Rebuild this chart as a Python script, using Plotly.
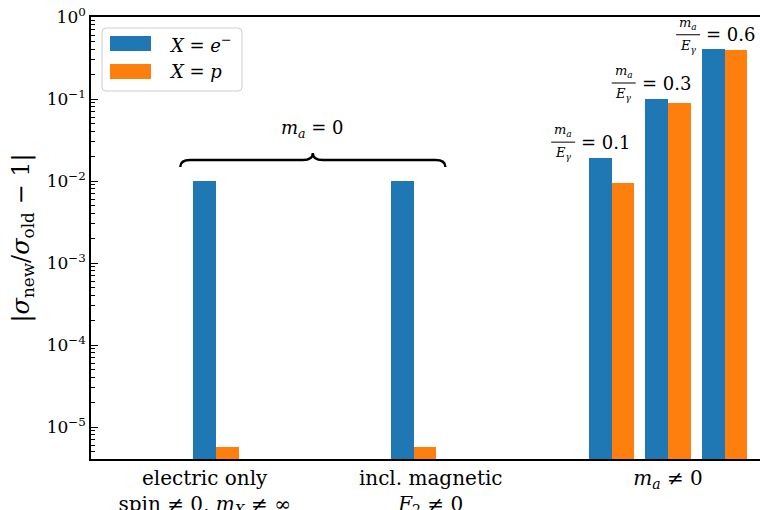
import numpy as np
import plotly.graph_objects as go

# ---------------- data ----------------
groups = ["electric only", "incl. magnetic", "ma/Eg=0.1", "ma/Eg=0.3", "ma/Eg=0.6"]
electron = [1.0e-2, 1.0e-2, 1.9e-2, 1.0e-1, 4.1e-1]
proton = [5.7e-6, 5.7e-6, 9.5e-3, 8.9e-2, 4.0e-1]
ratio_labels = ["0.1", "0.3", "0.6"]
tick_labels = [
    "electric only<br>spin ≠ 0, <i>m</i><sub><i>X</i></sub> ≠ ∞",
    "incl. magnetic<br><i>F</i><sub>2</sub> ≠ 0",
    "<i>m</i><sub><i>a</i></sub> ≠ 0",
]
ytick_vals = [1e-5, 1e-4, 1e-3, 1e-2, 1e-1, 1.0]
ytick_text = ["10<sup>−5</sup>", "10<sup>−4</sup>", "10<sup>−3</sup>",
              "10<sup>−2</sup>", "10<sup>−1</sup>", "10<sup>0</sup>"]

# ---------------- layout / style ----------------
pair_centers = [0.0, 0.875, 1.75, 2.0, 2.25]
bar_w = 0.1
tick_pos = [-0.05, 0.95, 2.0]
XMIN, XMAX = -0.553, 2.407
YMIN, YMAX = -5.39, 0.0
BLUE, ORANGE = "#1f77b4", "#ff7f0e"
FONT = "DejaVu Serif"
W, H = 760, 510
ML, MR, MT, MB = 91, 0, 17, 51
PW, PH = W - ML - MR, H - MT - MB


def ypaper(v):
    return (np.log10(v) - YMIN) / (YMAX - YMIN)


def pxp(px):
    return (px - ML) / PW


def pyp(py):
    return (H - MB - py) / PH


fig = go.Figure()
fig.add_trace(go.Bar(x=[c - bar_w / 2 for c in pair_centers], y=electron, width=bar_w,
                     marker=dict(color=BLUE, line=dict(width=0)), name="X = e-", showlegend=False))
fig.add_trace(go.Bar(x=[c + bar_w / 2 for c in pair_centers], y=proton, width=bar_w,
                     marker=dict(color=ORANGE, line=dict(width=0)), name="X = p", showlegend=False))

shapes = []
annotations = []

# ---- brace over m_a = 0 groups ----
L = pair_centers[0] - bar_w - 0.058
R = pair_centers[1] + bar_w + 0.04
M = (L + R) / 2
r = 0.044
y_tip, y_line, y_peak = pyp(167), pyp(160), pyp(153)
path = (f"M {L},{y_tip} Q {L},{y_line} {L + r},{y_line} L {M - r},{y_line} "
        f"Q {M},{y_line} {M},{y_peak} Q {M},{y_line} {M + r},{y_line} "
        f"L {R - r},{y_line} Q {R},{y_line} {R},{y_tip}")
shapes.append(dict(type="path", path=path, xref="x", yref="paper",
                   line=dict(color="black", width=2.4)))
annotations.append(dict(x=M, y=pyp(129), xref="x", yref="paper", showarrow=False,
                        text="<i>m</i><sub><i>a</i></sub> = 0",
                        font=dict(family=FONT, size=18, color="black"),
                        xanchor="center", yanchor="middle"))

# ---- m_a / E_gamma labels ----
label_dx = [-49, -45, -37]      # px, left edge of label rel. to blue bar centre
label_dy = [16, 16, 14]         # px, fraction bar above blue bar top
for i, lab in enumerate(ratio_labels):
    gi = 2 + i
    xc = pair_centers[gi] - bar_w / 2
    ya = ypaper(electron[gi])
    dx, dy = label_dx[i], label_dy[i]
    shapes.append(dict(type="line", xref="x", yref="paper", xsizemode="pixel",
                       ysizemode="pixel", xanchor=xc, yanchor=ya,
                       x0=dx, x1=dx + 24, y0=dy, y1=dy,
                       line=dict(color="black", width=1)))
    annotations.append(dict(x=xc, y=ya, xref="x", yref="paper", xshift=dx + 12, yshift=dy + 1,
                            text="<i>m</i><sub><i>a</i></sub>", showarrow=False,
                            font=dict(family=FONT, size=13, color="black"),
                            xanchor="center", yanchor="bottom"))
    annotations.append(dict(x=xc, y=ya, xref="x", yref="paper", xshift=dx + 12, yshift=dy - 1,
                            text="<i>E</i><sub><i>γ</i></sub>", showarrow=False,
                            font=dict(family=FONT, size=13, color="black"),
                            xanchor="center", yanchor="top"))
    annotations.append(dict(x=xc, y=ya, xref="x", yref="paper", xshift=dx + 28, yshift=dy,
                            text=f"= {lab}", showarrow=False,
                            font=dict(family=FONT, size=18, color="black"),
                            xanchor="left", yanchor="middle"))

# ---- custom legend ----
x0, x1, y0, y1 = pxp(102), pxp(242), pyp(28), pyp(91)
rx, ry = 4 / PW, 4 / PH
box = (f"M {x0 + rx},{y0} L {x1 - rx},{y0} Q {x1},{y0} {x1},{y0 - ry} "
       f"L {x1},{y1 + ry} Q {x1},{y1} {x1 - rx},{y1} L {x0 + rx},{y1} "
       f"Q {x0},{y1} {x0},{y1 + ry} L {x0},{y0 - ry} Q {x0},{y0} {x0 + rx},{y0} Z")
shapes.append(dict(type="path", path=box, xref="paper", yref="paper",
                   fillcolor="rgba(255,255,255,0.8)", line=dict(color="#cccccc", width=1)))
legend_items = [(BLUE, "<i>X</i> = <i>e</i><sup>−</sup>", 36, 51),
                (ORANGE, "<i>X</i> = <i>p</i>", 64, 79)]
for col, txt, ta, tb in legend_items:
    shapes.append(dict(type="rect", xref="paper", yref="paper",
                       x0=pxp(110), x1=pxp(151), y0=pyp(tb), y1=pyp(ta),
                       fillcolor=col, line=dict(width=0)))
    annotations.append(dict(x=pxp(167), y=pyp((ta + tb) / 2), xref="paper", yref="paper",
                            text=txt, showarrow=False, xanchor="left", yanchor="middle",
                            font=dict(family=FONT, size=18, color="black")))

minor_vals = [k * 10.0 ** e for e in range(-6, 0) for k in range(2, 10)]

fig.update_layout(
    width=W, height=H,
    margin=dict(l=ML, r=MR, t=MT, b=MB, pad=0, autoexpand=False),
    paper_bgcolor="white", plot_bgcolor="white",
    font=dict(family=FONT, size=20, color="black"),
    barmode="overlay", bargap=0,
    shapes=shapes, annotations=annotations,
    xaxis=dict(range=[XMIN, XMAX], tickmode="array", tickvals=tick_pos, ticktext=tick_labels,
               ticks="", showgrid=False, zeroline=False, showline=True, linecolor="black",
               linewidth=1.6, mirror=True, tickfont=dict(family=FONT, size=20),
               ticklabelstandoff=0, automargin=False),
    yaxis=dict(type="log", range=[YMIN, YMAX], tickmode="array", tickvals=ytick_vals,
               ticktext=ytick_text, ticks="inside", ticklen=7, tickwidth=1, tickcolor="black",
               showgrid=False, zeroline=False, showline=True, linecolor="black", linewidth=1.6,
               tickfont=dict(family=FONT, size=17), automargin=False,
               minor=dict(tickmode="array", tickvals=minor_vals, ticks="inside", ticklen=4,
                          tickwidth=1, tickcolor="black", showgrid=False),
               title=dict(text="|<i>σ</i><sub>new</sub>/<i>σ</i><sub>old</sub> − 1|",
                          font=dict(family=FONT, size=24), standoff=10)),
)

fig.write_html("out.html")
